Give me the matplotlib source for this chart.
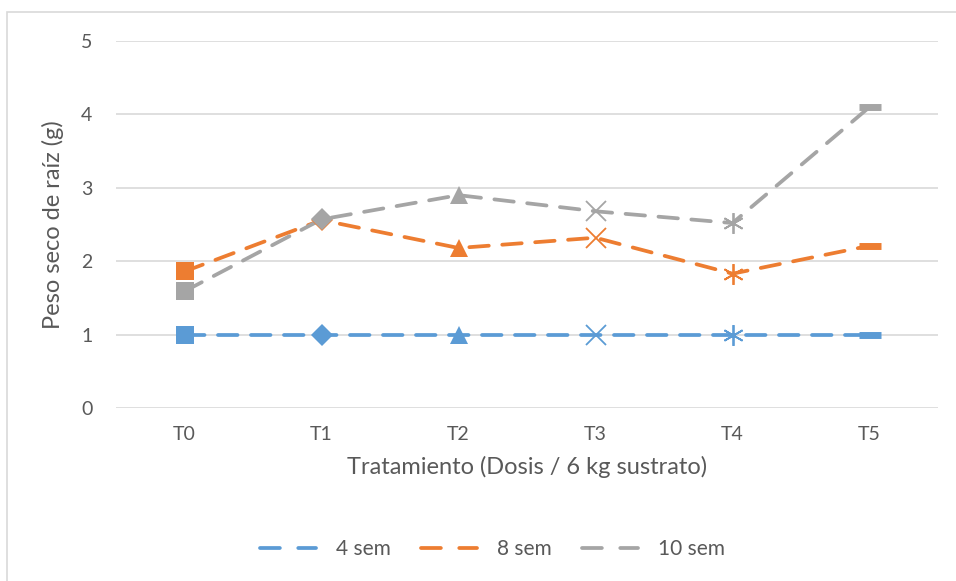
import matplotlib
matplotlib.use("Agg")
import matplotlib.pyplot as plt
from matplotlib.patches import Rectangle
from matplotlib.lines import Line2D

categories = ["T0", "T1", "T2", "T3", "T4", "T5"]
series_names = ["4 sem", "8 sem", "10 sem"]
sem4 = [1.0, 1.0, 1.0, 1.0, 1.0, 1.0]
sem8 = [1.86, 2.56, 2.18, 2.32, 1.83, 2.21]
sem10 = [1.59, 2.57, 2.90, 2.68, 2.52, 4.10]
yticks = [0, 1, 2, 3, 4, 5]

colors = ["#5B9BD5", "#ED7D31", "#A5A5A5"]
point_markers = ["s", "D", "^", "x", (6, 2, 0), "_"]
text_color = "#595959"
grid_color = "#D9D9D9"

plt.rcParams["font.family"] = ["Lato", "DejaVu Sans"]

fig = plt.figure(figsize=(9.56, 5.81), dpi=100)
fig.patch.set_facecolor("white")
fig.add_artist(Rectangle((7 / 956, -0.05), 1.2, 1 - 12 / 581 + 0.05,
                         transform=fig.transFigure, fill=False,
                         edgecolor=grid_color, linewidth=1.2))

ax = fig.add_axes([116 / 956, 1 - 408 / 581, (938 - 116) / 956, (408 - 41) / 581])
x = list(range(len(categories)))

dash = (0, (5.2, 3.6))
for vals, col in zip([sem4, sem8, sem10], colors):
    ax.plot(x, vals, color=col, linewidth=2.7, linestyle=dash,
            dash_capstyle="round", solid_capstyle="round", zorder=3)
    for xi, yi, mk in zip(x, vals, point_markers):
        if mk == "_":
            ax.plot([xi], [yi], marker=mk, markersize=16, markeredgewidth=5,
                    color=col, zorder=4)
        elif mk in ("x", (6, 2, 0)):
            ax.plot([xi], [yi], marker=mk, markersize=15, markeredgewidth=1.3,
                    color=col, zorder=4)
        else:
            size = {"s": 12.5, "D": 11.5, "^": 13}[mk]
            ax.plot([xi], [yi], marker=mk, markersize=size, color=col,
                    markeredgewidth=0, zorder=4)

ax.set_xlim(-0.5, 5.5)
ax.set_ylim(0, 5)
ax.set_xticks(x)
ax.set_xticklabels(categories)
ax.set_yticks(yticks)
ax.grid(axis="y", color=grid_color, linewidth=1.2)
ax.set_axisbelow(True)
for s in ax.spines.values():
    s.set_visible(False)
ax.tick_params(length=0, colors=text_color, labelsize=14)
ax.tick_params(axis="x", pad=13)
ax.tick_params(axis="y", pad=17)

ax.set_xlabel("Tratamiento (Dosis / 6 kg sustrato)", fontsize=17,
              color=text_color, labelpad=9)
ax.set_ylabel("Peso seco de raíz (g)", fontsize=17, color=text_color,
              labelpad=12)

handles = [Line2D([0], [0], color=c, linewidth=2.7, linestyle=(0, (5.3, 4.9)),
                  dash_capstyle="round") for c in colors]
fig.legend(handles, series_names, loc="center", bbox_to_anchor=(0.515, 1 - 549 / 581),
           ncol=3, frameon=False, fontsize=15, labelcolor=text_color,
           handlelength=2.7, columnspacing=1.45, handletextpad=0.95)

fig.savefig("out.png", dpi=100, facecolor="white")
